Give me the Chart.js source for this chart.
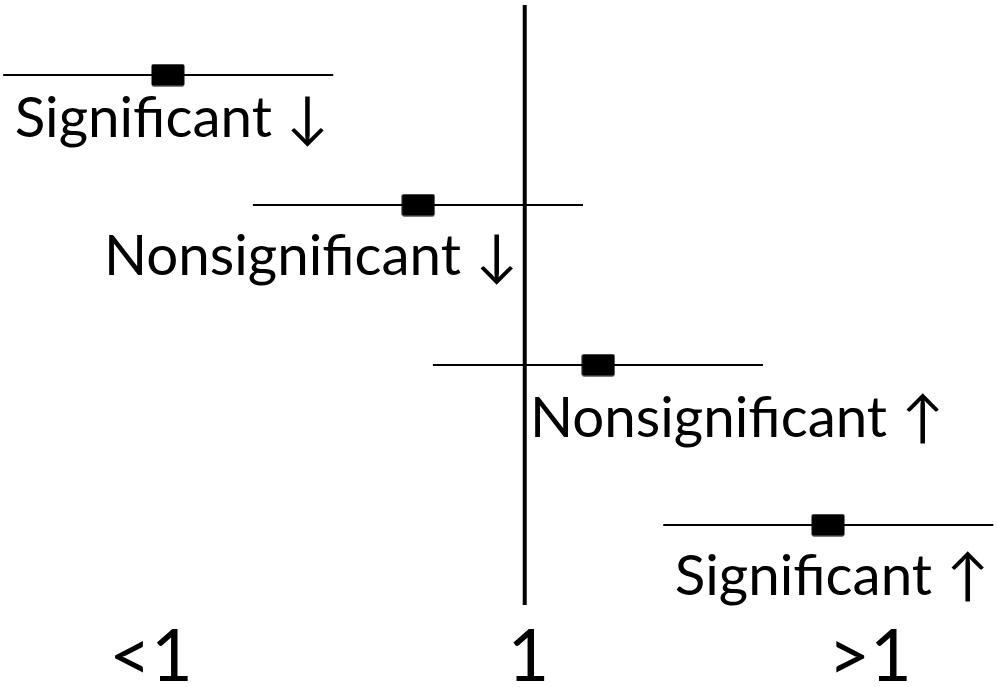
<!DOCTYPE html>
<html>
<head>
<meta charset="utf-8">
<script src="https://cdn.jsdelivr.net/npm/chart.js@4"></script>
<style>
  html, body { margin: 0; padding: 0; background: #fff; }
  #wrap { width: 997px; height: 687px; }
</style>
</head>
<body>
<div id="wrap"><canvas id="forest"></canvas></div>
<script>
// Row data (x in ratio-like units, "1" = no effect)
const rowLabels = ['Significant \u2193', 'Nonsignificant \u2193', 'Nonsignificant \u2191', 'Significant \u2191'];
const rowY = [5.3, 4.0, 2.4, 0.8];
const estimates = [0.32, 0.797, 1.14, 1.578];
const lowerCI = [0.006, 0.482, 0.825, 1.264];
const upperCI = [0.635, 1.111, 1.454, 1.893];
const refValue = 1;
const tickValues = [0.288, 1.007, 1.658];
const tickLabels = ['<1', '1', '>1'];

// where each label text sits (left edge x, baseline y), in axis units
const labelPos = [
    { x: 0.028, y: 4.68 },
    { x: 0.198, y: 3.30 },
    { x: 1.01, y: 1.68 },
    { x: 1.286, y: 0.10 }
];

document.addEventListener('DOMContentLoaded', function () {
    // black rectangle marker for point estimates
    const marker = document.createElement('canvas');
    marker.width = 34;
    marker.height = 23;
    const mctx = marker.getContext('2d');
    mctx.fillStyle = '#000';
    mctx.beginPath();
    mctx.roundRect(0.5, 0.5, 33, 22, 2);
    mctx.fill();

    const datasets = [];

    // reference line at 1
    datasets.push({
        type: 'line',
        data: [{ x: refValue, y: 0 }, { x: refValue, y: 6 }],
        borderColor: '#000',
        borderWidth: 4,
        pointRadius: 0
    });

    // confidence interval lines
    rowY.forEach((y, i) => {
        datasets.push({
            type: 'line',
            data: [{ x: lowerCI[i], y: y }, { x: upperCI[i], y: y }],
            borderColor: '#000',
            borderWidth: 2,
            pointRadius: 0
        });
    });

    // point estimates
    datasets.push({
        type: 'scatter',
        data: estimates.map((v, i) => ({ x: v, y: rowY[i] })),
        pointStyle: marker,
        pointRadius: 12
    });

    const rowText = {
        id: 'rowText',
        afterDatasetsDraw(chart) {
            const ctx = chart.ctx;
            const xs = chart.scales.x;
            const ys = chart.scales.y;
            ctx.save();
            ctx.fillStyle = '#000';
            ctx.font = '56.5px Lato, "DejaVu Sans", sans-serif';
            ctx.textAlign = 'left';
            ctx.textBaseline = 'alphabetic';
            rowLabels.forEach((txt, i) => {
                ctx.fillText(txt, xs.getPixelForValue(labelPos[i].x), ys.getPixelForValue(labelPos[i].y));
            });
            ctx.restore();
        }
    };

    new Chart(document.getElementById('forest'), {
        data: { datasets: datasets },
        options: {
            responsive: true,
            maintainAspectRatio: false,
            animation: false,
            layout: { autoPadding: false, padding: { top: 5, left: 0, right: 0, bottom: 0 } },
            plugins: {
                legend: { display: false },
                tooltip: { enabled: false }
            },
            scales: {
                x: {
                    type: 'linear',
                    min: 0,
                    max: 1.9,
                    grid: { display: false, tickLength: 24 },
                    border: { display: false },
                    afterBuildTicks: axis => {
                        axis.ticks = tickValues.map(v => ({ value: v }));
                    },
                    ticks: {
                        autoSkip: false,
                        maxRotation: 0,
                        color: '#000',
                        padding: 0,
                        font: { family: 'Lato', size: 72, lineHeight: 0.805 },
                        callback: (val, idx) => tickLabels[idx]
                    }
                },
                y: {
                    type: 'linear',
                    min: 0,
                    max: 6,
                    display: false
                }
            }
        },
        plugins: [rowText]
    });
});
</script>
</body>
</html>
